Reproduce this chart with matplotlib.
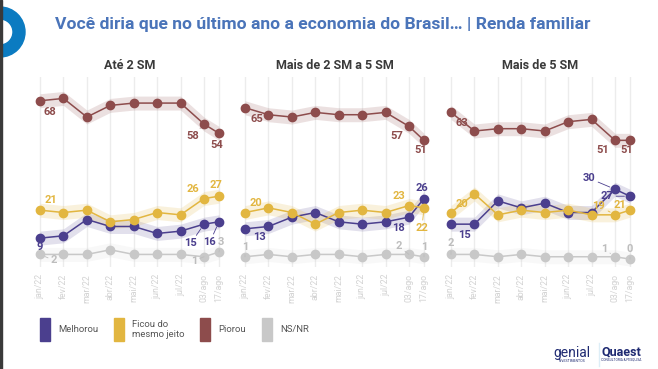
import matplotlib
matplotlib.use("Agg")
import matplotlib.pyplot as plt
import numpy as np
from matplotlib.patches import Wedge, Rectangle

plt.rcParams['font.family'] = ['Roboto', 'DejaVu Sans']

# ---------------- data ----------------
periods = ['jan/22', 'fev/22', 'mar/22', 'abr/22', 'mai/22', 'jun/22', 'jul/22', '03/ago', '17/ago']
period_pos = [0, 1, 2, 3, 4, 5, 6, 7, 7.64]

panel_titles = ['Até 2 SM', 'Mais de 2 SM a 5 SM', 'Mais de 5 SM']
series_names = ['Melhorou', 'Ficou do\nmesmo jeito', 'Piorou', 'NS/NR']

melhorou_p1 = [9, 10, 17, 14, 14, 11, 12, 15, 16]
ficou_p1 = [21, 20, 21, 16, 17, 20, 19, 26, 27]
piorou_p1 = [68, 69, 61, 66, 67, 67, 67, 58, 54]
nsnr_p1 = [2, 2, 2, 4, 2, 2, 2, 1, 3]

melhorou_p2 = [13, 14, 18, 20, 16, 15, 16, 18, 26]
ficou_p2 = [20, 22, 20, 15, 20, 21, 20, 23, 22]
piorou_p2 = [65, 62, 61, 63, 62, 62, 63, 57, 51]
nsnr_p2 = [1, 2, 1, 2, 2, 1, 2, 2, 1]

melhorou_p3 = [15, 15, 25, 22, 24, 20, 20, 30, 27]
ficou_p3 = [20, 28, 19, 21, 20, 21, 19, 19, 21]
piorou_p3 = [63, 55, 56, 56, 55, 59, 60, 51, 51]
nsnr_p3 = [2, 2, 1, 2, 1, 1, 1, 1, 0]

band_margin = 3

# ---------------- styling ----------------
colors = ['#4B3F8E', '#E2B640', '#8D4C4C', '#C8C8C8']
label_colors = ['#4B3F8E', '#E2B640', '#8D4C4C', '#BDBDBD']
band_alpha = [0.16, 0.18, 0.17, 0.12]

# label offsets (pixels, x right / y down) for indices 0, 7, 8 of each series
label_offsets = [
    {  # panel 1
        0: {0: (0, 9), 7: (-13, 19), 8: (-9, 20)},
        1: {0: (11, -10), 7: (-11, -10), 8: (-3, -11)},
        2: {0: (10, 11), 7: (-11, 12), 8: (-2, 12)},
        3: {0: (14, 6), 7: (-10, 4), 8: (2, -10)},
    },
    {  # panel 2
        0: {0: (14, 8), 7: (-10, 11), 8: (-2, -11)},
        1: {0: (11, -10), 7: (-10, -10), 8: (-2, 20)},
        2: {0: (12, 11), 7: (-12, 10), 8: (-3, 10)},
        3: {0: (0, -10), 7: (-10, -8), 8: (0, -10)},
    },
    {  # panel 3
        0: {0: (13, 11), 7: (-26, -11), 8: (-23, 0)},
        1: {0: (11, -9), 7: (-16, -9), 8: (-10, -5)},
        2: {0: (11, 11), 7: (-12, 10), 8: (-3, 10)},
        3: {0: (0, -11), 7: (-11, -8), 8: (0, -10)},
    },
]

panels = [
    [melhorou_p1, ficou_p1, piorou_p1, nsnr_p1],
    [melhorou_p2, ficou_p2, piorou_p2, nsnr_p2],
    [melhorou_p3, ficou_p3, piorou_p3, nsnr_p3],
]

W, H = 658, 369
fig = plt.figure(figsize=(W / 100, H / 100), dpi=100)
fig.patch.set_facecolor('white')

ax_lefts = [33, 238, 444]
ax_w = 193
ax_top, ax_bot = 77, 267

for p, (series, title) in enumerate(zip(panels, panel_titles)):
    ax = fig.add_axes([ax_lefts[p] / W, 1 - ax_bot / H, ax_w / W, (ax_bot - ax_top) / H])
    ax.set_xlim(-0.3, 7.94)
    ax.set_ylim(-3.4, 78.2)
    for s in ax.spines.values():
        s.set_visible(False)
    ax.set_yticks([])
    ax.set_xticks(period_pos)
    ax.set_xticklabels(periods, rotation=90, fontsize=6.3, color='#D2D2D2')
    ax.tick_params(axis='x', length=0, pad=5)
    ax.grid(axis='x', color='#ECECEC', lw=1)
    ax.set_axisbelow(True)
    ax.set_title(title, fontsize=9, fontweight='bold', color='#3A3A3A', pad=6)

    x = np.array(period_pos)
    for k in range(4):
        v = np.array(series[k], dtype=float)
        ax.fill_between(x, v - band_margin, v + band_margin, color=colors[k],
                        alpha=band_alpha[k], lw=0, zorder=1)
    for k in [3, 1, 0, 2]:
        v = np.array(series[k], dtype=float)
        ax.plot(x, v, color=colors[k], lw=1.1, marker='o', ms=6, zorder=3 + k * 0.1)
    for k in range(4):
        v = series[k]
        for idx, (dx, dy) in label_offsets[p][k].items():
            ax.annotate(str(v[idx]), xy=(x[idx], v[idx]), xytext=(dx, -dy),
                        textcoords='offset pixels', ha='center', va='center',
                        fontsize=8, fontweight='bold', color=label_colors[k], zorder=6,
                        arrowprops=dict(arrowstyle='-', color=label_colors[k], lw=0.6,
                                        shrinkA=0, shrinkB=4))

# -------- overlay (pixel coordinates) --------
ov = fig.add_axes([0, 0, 1, 1], zorder=-1)
ov.set_xlim(0, W)
ov.set_ylim(H, 0)
ov.axis('off')

ov.add_patch(Wedge((0, 32), 25, -90, 90, width=12, color='#0B7BC1'))
ov.add_patch(Rectangle((0, 0), 2, H, color='#3A3A3A'))

fig.text(55 / W, 1 - 25 / H,
         'Você diria que no último ano a economia do Brasil… | Renda familiar',
         fontsize=12.6, fontweight='bold', color='#4A74B9', va='center', ha='left')

leg_sq = [40, 114, 200, 262]
leg_tx = [58, 132, 218, 280]
for k in range(4):
    ov.add_patch(Rectangle((leg_sq[k], 318), 10, 23, color=colors[k]))
    ov.text(leg_tx[k], 329.5, series_names[k], fontsize=6.8, color='#555555',
            va='center', ha='left', linespacing=1.1)

# logos
ov.text(572, 353, 'genial', fontsize=10, color='#1F2A72', ha='center', va='center')
ov.text(572, 361, 'INVESTIMENTOS', fontsize=2.5, color='#1F2A72', ha='center', va='center')
ov.plot([599, 599], [343, 366], color='#DDEEF7', lw=1)
ov.text(621, 352, 'Quaest', fontsize=9, fontweight='bold', color='#1F2A72', ha='center', va='center')
ov.text(621, 360, 'CONSULTORIA & PESQUISA', fontsize=2.3, color='#1F2A72', ha='center', va='center')

fig.savefig('out.png', dpi=100, facecolor='white')
